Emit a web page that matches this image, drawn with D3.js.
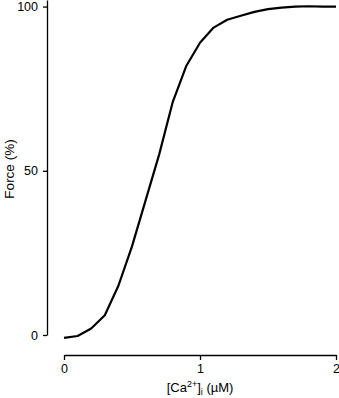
<!DOCTYPE html>
<html>
<head>
<meta charset="utf-8">
<script src="https://cdn.jsdelivr.net/npm/d3@7"></script>
<style>
  body { margin: 0; background: #fff; }
  svg { display: block; font-family: "Liberation Sans", Arial, sans-serif; }
  .axis path, .axis line { stroke: #000; stroke-width: 1.3; }
  .axis text { font-size: 12.5px; fill: #000; }
</style>
</head>
<body>
<script>
// [Ca2+]i in uM and relative force in %
const calcium = [0, 0.1, 0.2, 0.3, 0.4, 0.5, 0.6, 0.7, 0.8, 0.9, 1.0,
                 1.1, 1.2, 1.3, 1.4, 1.5, 1.6, 1.7, 1.8, 1.9, 2.0];
const force = [-0.9, -0.3, 2, 6, 15, 27, 41, 55, 71, 82, 89,
               93.6, 96, 97.2, 98.4, 99.2, 99.7, 100, 100.1, 100, 100];
const xTicks = [0, 1, 2];
const yTicks = [0, 50, 100];

const width = 339, height = 398;

const svg = d3.select('body').append('svg')
    .attr('width', width)
    .attr('height', height);

const x = d3.scaleLinear().domain([0, 2]).range([64, 336]);
const y = d3.scaleLinear().domain([0, 102]).range([335, 0]);

// y axis
svg.append('g')
    .attr('class', 'axis')
    .attr('transform', 'translate(47,0)')
    .call(d3.axisLeft(y).tickValues(yTicks).tickSize(4).tickSizeOuter(0).tickPadding(5));

// x axis, offset below the plot
svg.append('g')
    .attr('class', 'axis')
    .attr('transform', 'translate(0,355)')
    .call(d3.axisBottom(x).tickValues(xTicks).tickSize(5).tickSizeOuter(0).tickPadding(4).tickFormat(d3.format('d')));

// the curve
const line = d3.line()
    .x((d, i) => x(calcium[i]))
    .y(d => y(d));

svg.append('path')
    .datum(force)
    .attr('fill', 'none')
    .attr('stroke', '#000')
    .attr('stroke-width', 2.2)
    .attr('stroke-linejoin', 'round')
    .attr('d', line);

// titles
svg.append('text')
    .attr('transform', 'translate(14,169) rotate(-90)')
    .attr('text-anchor', 'middle')
    .style('font-size', '13.5px')
    .text('Force (%)');

const xt = svg.append('text')
    .attr('x', 200)
    .attr('y', 392)
    .attr('text-anchor', 'middle')
    .style('font-size', '13px');
xt.append('tspan').text('[Ca');
xt.append('tspan').attr('dy', -5).style('font-size', '9px').text('2+');
xt.append('tspan').attr('dy', 5).text(']');
xt.append('tspan').attr('dy', 3).style('font-size', '9px').text('i');
xt.append('tspan').attr('dy', -3).text(' (\u00b5M)');
</script>
</body>
</html>
